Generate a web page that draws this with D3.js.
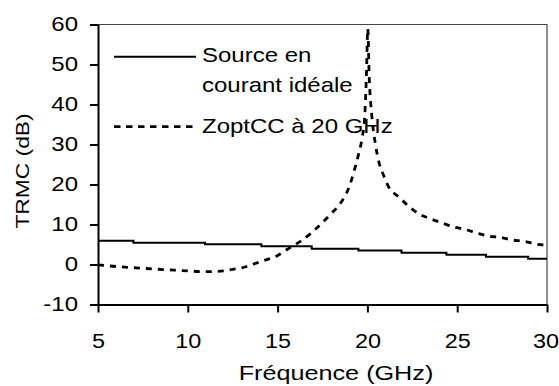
<!DOCTYPE html>
<html><head><meta charset="utf-8">
<script src="https://cdn.jsdelivr.net/npm/d3@7"></script>
<style>
html,body{margin:0;padding:0;background:#fff;}
svg{display:block;font-family:"Liberation Sans",Arial,sans-serif;}
</style></head>
<body>
<script>
// ---- data ----
const xTicks = [5, 10, 15, 20, 25, 30];
const yTicks = [-10, 0, 10, 20, 30, 40, 50, 60];
// "Source en courant idéale" (stepped levels)
const srcFreq = [5, 6.97, 10.96, 14.1, 16.9, 19.5, 21.9, 24.4, 26.6, 28.95, 30];
const srcTRMC = [5.95, 5.45, 5.05, 4.55, 3.95, 3.5, 2.95, 2.45, 1.95, 1.45, 1.45];
// "ZoptCC à 20 GHz"
const zFreq = [5, 6, 7, 8, 9, 10, 11, 12, 12.5, 13, 13.65, 14.3, 14.95, 15.5, 16.15, 16.8, 17.45, 18, 18.5, 19.0, 19.25, 19.5, 19.7, 19.85, 19.95, 20.02, 20.1, 20.25, 20.45, 20.65, 20.9, 21.16, 21.77, 22.33, 22.89, 23.52, 24.1, 24.75, 25.4, 26.05, 26.73, 27.38, 28.09, 28.74, 29.39, 30];
const zTRMC = [-0.1, -0.5, -0.8, -1.1, -1.35, -1.6, -1.8, -1.6, -1.2, -0.85, 0.1, 1.1, 2.1, 3.7, 5.45, 7.6, 10.3, 12.8, 15.3, 19.6, 23.2, 27.4, 31.5, 37, 48, 59, 47, 37, 30, 25.4, 22.3, 19.6, 16.8, 14.45, 12.6, 11.4, 10.5, 9.45, 8.8, 7.95, 7.1, 6.8, 6.1, 5.8, 5.1, 4.8];
const legendLabels = [["Source en", "courant idéale"], ["ZoptCC à 20 GHz"]];
const xTitle = "Fréquence (GHz)";
const yTitle = "TRMC (dB)";

// ---- layout ----
const W = 559, H = 386;
const L = 98, R = 547, T = 24.5, B = 304.5;
const SX = 1.2;

const svg = d3.select("body").append("svg").attr("width", W).attr("height", H);
svg.append("rect").attr("width", W).attr("height", H).attr("fill", "#fff");

const x = d3.scaleLinear().domain([5, 30]).range([L, R]);
const y = d3.scaleLinear().domain([-10, 60]).range([B, T]);

// frame top/right
svg.append("path")
  .attr("d", `M${L},${T}H${R}V${B}`)
  .attr("fill", "none").attr("stroke", "#444").attr("stroke-width", 1.2);

function fixText(sel, size) {
  sel.selectAll("text").each(function () {
    const t = d3.select(this);
    const tx = +t.attr("x") || 0;
    const ty = +t.attr("y") || 0;
    t.attr("x", 0).attr("y", 0)
      .attr("transform", `translate(${tx},${ty}) scale(${SX},1)`)
      .attr("font-size", size).attr("fill", "#000")
      .attr("font-family", '"Liberation Sans",Arial,sans-serif');
  });
}

const gy = svg.append("g").attr("transform", `translate(${L},0)`)
  .call(d3.axisLeft(y).tickValues(yTicks).tickSize(8).tickPadding(12).tickSizeOuter(0).tickFormat(d => String(d)));
gy.selectAll("text").attr("dy", "0.3em");
fixText(gy, 20);

const gx = svg.append("g").attr("transform", `translate(0,${B})`)
  .call(d3.axisBottom(x).tickValues(xTicks).tickSize(8).tickPadding(21.5).tickSizeOuter(0).tickFormat(d => String(d)));
fixText(gx, 19.5);
// keep the last label inside the picture
gx.selectAll(".tick").filter(d => d === xTicks[xTicks.length - 1]).select("text")
  .attr("text-anchor", "end")
  .attr("transform", `translate(${W - R - 0.5},${8 + 21.5}) scale(${SX},1)`);

[gx, gy].forEach(g => {
  g.select(".domain").attr("stroke", "#000").attr("stroke-width", 2);
  g.selectAll(".tick line").attr("stroke", "#000").attr("stroke-width", 2);
});

// clip
svg.append("clipPath").attr("id", "clip").append("rect")
  .attr("x", L).attr("y", T).attr("width", R - L).attr("height", B - T);

const srcData = srcFreq.map((f, i) => [f, srcTRMC[i]]);
const zData = zFreq.map((f, i) => [f, zTRMC[i]]);

svg.append("path").datum(srcData)
  .attr("clip-path", "url(#clip)")
  .attr("d", d3.line().x(d => x(d[0])).y(d => y(d[1])).curve(d3.curveStepAfter))
  .attr("fill", "none").attr("stroke", "#000").attr("stroke-width", 2);

svg.append("path").datum(zData)
  .attr("clip-path", "url(#clip)")
  .attr("d", d3.line().x(d => x(d[0])).y(d => y(d[1])).curve(d3.curveMonotoneX))
  .attr("fill", "none").attr("stroke", "#000").attr("stroke-width", 2.8)
  .attr("stroke-dasharray", "6,6");

// legend
function label(txt, px, py, size, rot, anchor) {
  svg.append("text")
    .attr("transform", `translate(${px},${py}) rotate(${rot || 0}) scale(${SX},1)`)
    .attr("font-size", size).attr("text-anchor", anchor || "start").attr("fill", "#000")
    .text(txt);
}
svg.append("line").attr("x1", 114).attr("x2", 196).attr("y1", 56.7).attr("y2", 56.7)
  .attr("stroke", "#000").attr("stroke-width", 2);
label(legendLabels[0][0], 202, 61.5, 20);
label(legendLabels[0][1], 202, 92, 20);
svg.append("line").attr("x1", 114).attr("x2", 196).attr("y1", 126.7).attr("y2", 126.7)
  .attr("stroke", "#000").attr("stroke-width", 2.8).attr("stroke-dasharray", "6.5,5.5");
label(legendLabels[1][0], 202, 132.5, 20);

// axis titles
label(xTitle, 336, 380, 21, 0, "middle");
label(yTitle, 28.5, 171, 19, -90, "middle");
</script>
</body></html>
